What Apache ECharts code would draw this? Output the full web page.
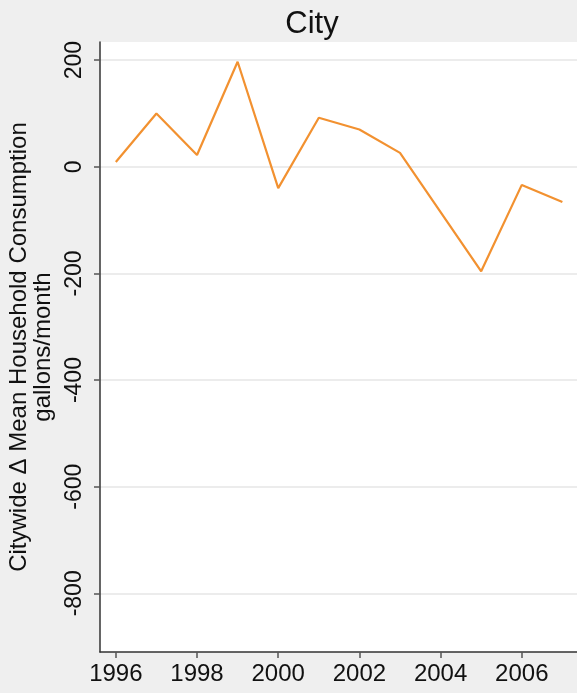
<!DOCTYPE html>
<html>
<head>
<meta charset="utf-8">
<script src="https://cdn.jsdelivr.net/npm/echarts@6/dist/echarts.min.js"></script>
<style>
html,body{margin:0;padding:0;background:#efefef;}
#c{width:577px;height:693px;}
</style>
</head>
<body>
<div id="c"></div>
<script>
const years = [1996,1997,1998,1999,2000,2001,2002,2003,2004,2005,2006,2007];
const consumption = [9,100,22,197,-40,92,70,26,-85,-196,-34,-66];
const xTicks = [1996,1998,2000,2002,2004,2006];
const yTicks = [-800,-600,-400,-200,0,200];
const titleText = 'City';
const yTitle = 'Citywide \u0394 Mean Household Consumption\ngallons/month';

const font = '"Liberation Sans", Arial, Helvetica, sans-serif';
const chart = echarts.init(document.getElementById('c'), null, {renderer:'canvas'});
chart.setOption({
  backgroundColor: '#efefef',
  animation: false,
  title: {
    text: titleText,
    left: 307, top: 4, textAlign: 'center',
    textStyle: {fontFamily: font, fontSize: 31, fontWeight: 'normal', color: '#111'}
  },
  grid: {
    left: 100, top: 42, right: 0, bottom: 41,
    show: true, backgroundColor: '#ffffff', borderWidth: 0,
    containLabel: false, outerBoundsMode: 'none'
  },
  xAxis: {
    type: 'value', min: 1995.61, max: 2007.36,
    axisLine: {show: true, onZero: false, lineStyle: {color: '#333', width: 1.5}},
    axisTick: {show: true, length: 6, lineStyle: {color: '#555', width: 1.5}, customValues: xTicks},
    axisLabel: {customValues: xTicks, margin: 10, fontFamily: font, fontSize: 24, color: '#111', formatter: v => String(v)},
    splitLine: {show: false}
  },
  yAxis: {
    type: 'value', min: -910, max: 234,
    name: yTitle, nameLocation: 'middle', nameRotate: 90, nameGap: 40,
    nameTextStyle: {fontFamily: font, fontSize: 24, lineHeight: 24, color: '#111', align: 'center'},
    axisLine: {show: true, onZero: false, lineStyle: {color: '#333', width: 1.5}},
    axisTick: {show: true, length: 6, lineStyle: {color: '#555', width: 1.5}, customValues: yTicks},
    axisLabel: {customValues: yTicks, rotate: 90, margin: 14, fontFamily: font, fontSize: 23, color: '#111'},
    splitLine: {show: true, lineStyle: {color: '#ececec', width: 2}}
  },
  series: [{
    type: 'line',
    data: years.map((y, i) => [y, consumption[i]]),
    symbol: 'none',
    lineStyle: {color: '#f29130', width: 2.2},
    clip: false
  }]
});
</script>
</body>
</html>
